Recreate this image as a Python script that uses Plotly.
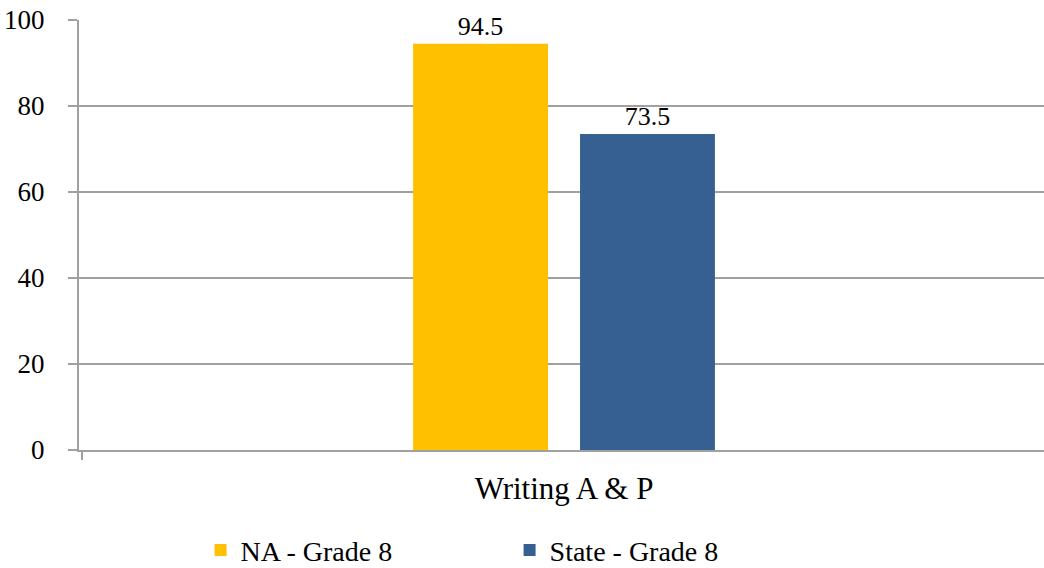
import plotly.graph_objects as go

categories = ["Writing A & P"]
series_names = ["NA - Grade 8", "State - Grade 8"]
series_values = [[94.5], [73.5]]
series_colors = ["#FFC000", "#366092"]
y_ticks = [0, 20, 40, 60, 80, 100]

FONT = "Times New Roman"
GRID = "#a0a0a0"

fig = go.Figure()
for name, vals, color in zip(series_names, series_values, series_colors):
    fig.add_trace(go.Bar(
        x=categories,
        y=vals,
        name=name,
        marker=dict(color=color, line=dict(width=0)),
        text=[f"{v:g}" for v in vals],
        textposition="outside",
        textfont=dict(family=FONT, size=26, color="#000000"),
        cliponaxis=False,
    ))

fig.update_layout(
    width=1044,
    height=568,
    margin=dict(l=79, r=0, t=20, b=118, autoexpand=False),
    paper_bgcolor="white",
    plot_bgcolor="white",
    barmode="group",
    bargap=0.654,
    bargroupgap=0.192,
    font=dict(family=FONT, color="#000000"),
    showlegend=True,
    legend=dict(
        orientation="h",
        x=0.126,
        xanchor="left",
        xref="paper",
        y=0.075,
        yref="container",
        yanchor="top",
        font=dict(family=FONT, size=28, color="#000000"),
        entrywidth=264,
        itemwidth=30,
        bgcolor="rgba(0,0,0,0)",
    ),
)

fig.update_xaxes(
    range=[-0.5026, 0.4974],
    automargin=False,
    showline=True,
    linecolor=GRID,
    linewidth=2,
    ticks="outside",
    tickson="boundaries",
    ticklen=8,
    tickwidth=2,
    tickcolor=GRID,
    tickfont=dict(family=FONT, size=31, color="#000000"),
    ticklabelstandoff=10,
    showgrid=False,
    zeroline=False,
)

fig.update_yaxes(
    range=[0, 100],
    automargin=False,
    tickvals=y_ticks,
    ticktext=[str(t) for t in y_ticks],
    showline=True,
    linecolor=GRID,
    linewidth=2,
    ticks="outside",
    ticklen=9,
    tickwidth=2,
    tickcolor=GRID,
    tickfont=dict(family=FONT, size=27, color="#000000"),
    ticklabelstandoff=18,
    showgrid=True,
    gridcolor=GRID,
    gridwidth=2,
    zeroline=False,
)

fig.write_html("out.html")
